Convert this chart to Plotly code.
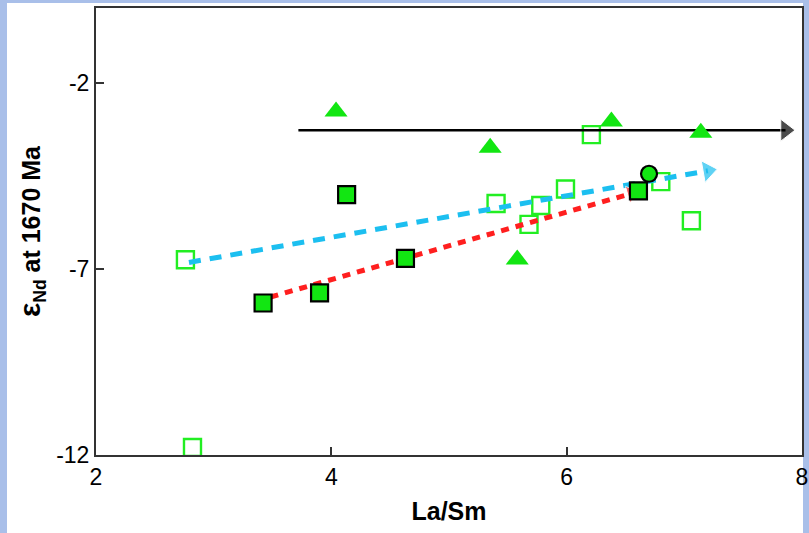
import plotly.graph_objects as go

# ---- data ----
filled_sq_x = [3.42, 3.90, 4.13, 4.63, 6.61]
filled_sq_y = [-7.92, -7.65, -5.01, -6.72, -4.91]

circle_x = [6.70]
circle_y = [-4.45]

open_sq_x = [2.76, 2.82, 5.40, 5.68, 5.78, 5.99, 6.21, 6.80, 7.06]
open_sq_y = [-6.76, -11.80, -5.25, -5.81, -5.30, -4.86, -3.40, -4.66, -5.71]

tri_x = [4.04, 5.35, 6.38, 7.14, 5.58]
tri_y = [-2.78, -3.75, -3.05, -3.35, -6.75]

black_arrow_x = [3.72, 7.86]
black_arrow_y = [-3.28, -3.28]
cyan_arrow_x = [2.79, 7.20]
cyan_arrow_y = [-6.83, -4.37]
red_arrow_x = [3.36, 6.55]
red_arrow_y = [-7.87, -4.98]

x_ticks = [2, 4, 6, 8]
y_ticks = [-2, -7, -12]

GREEN = "#12e612"
CYAN = "#1cbff0"
RED = "#ff1f1f"

fig = go.Figure()

fig.add_trace(go.Scatter(
    x=open_sq_x, y=open_sq_y, mode="markers",
    marker=dict(symbol="square-open", size=17, color="#22ee22", line=dict(width=2.4)),
    hoverinfo="skip"))

# trend lines
fig.add_trace(go.Scatter(x=cyan_arrow_x, y=cyan_arrow_y, mode="lines",
                         line=dict(color=CYAN, width=5, dash="12px,9px"), hoverinfo="skip"))
fig.add_trace(go.Scatter(x=cyan_arrow_x, y=cyan_arrow_y, mode="markers",
                         marker=dict(symbol="triangle-up", size=[0, 19], color=CYAN,
                                     angleref="previous"), hoverinfo="skip"))
fig.add_trace(go.Scatter(x=red_arrow_x, y=red_arrow_y, mode="lines",
                         line=dict(color=RED, width=5, dash="8px,7px"), hoverinfo="skip"))
fig.add_trace(go.Scatter(x=red_arrow_x, y=red_arrow_y, mode="markers",
                         marker=dict(symbol="triangle-up", size=[0, 15], color=RED,
                                     angleref="previous"), hoverinfo="skip"))
fig.add_trace(go.Scatter(x=black_arrow_x, y=black_arrow_y, mode="lines",
                         line=dict(color="black", width=2.5), hoverinfo="skip"))
fig.add_trace(go.Scatter(x=black_arrow_x, y=black_arrow_y, mode="markers",
                         marker=dict(symbol="triangle-up", size=[0, 19], color="black",
                                     angleref="previous"), hoverinfo="skip"))

fig.add_trace(go.Scatter(
    x=filled_sq_x, y=filled_sq_y, mode="markers",
    marker=dict(symbol="square", size=17, color=GREEN, line=dict(color="black", width=2.2)),
    hoverinfo="skip"))
fig.add_trace(go.Scatter(
    x=circle_x, y=circle_y, mode="markers",
    marker=dict(symbol="circle", size=16, color=GREEN, line=dict(color="black", width=2.2)),
    hoverinfo="skip"))
fig.add_trace(go.Scatter(
    x=tri_x, y=tri_y, mode="markers",
    marker=dict(symbol="triangle-up", size=20, color=GREEN, line=dict(width=0)),
    hoverinfo="skip"))

# white slide area on a light-blue page
fig.add_shape(type="rect", xref="paper", yref="paper", layer="below",
              x0=(7 - 96) / 706, x1=(803 - 96) / 706,
              y0=(455 - 540) / 447, y1=(455 - 3) / 447,
              fillcolor="white", line=dict(width=0))

axis_common = dict(showgrid=False, zeroline=False, showline=True, linecolor="#333333",
                   linewidth=2, mirror=True, ticks="inside", ticklen=8, tickwidth=1.5,
                   tickcolor="#333333", automargin=False,
                   tickfont=dict(family="Liberation Sans, Arial", size=23, color="black"))

fig.update_layout(
    width=809, height=533,
    margin=dict(l=96, r=7, t=8, b=78),
    paper_bgcolor="#a9bfe9",
    plot_bgcolor="white",
    showlegend=False,
    xaxis=dict(range=[2, 8], tickvals=x_ticks, ticktext=[str(v) for v in x_ticks],
               title=dict(text="<b>La/Sm</b>", standoff=14,
                          font=dict(family="Liberation Sans, Arial", size=25, color="black")),
               **axis_common),
    yaxis=dict(range=[-12, 0], tickvals=y_ticks, ticktext=[str(v) for v in y_ticks],
               title=dict(text="<b><span style='font-size:30px'>ε</span><sub>Nd</sub> at 1670 Ma</b>",
                          standoff=8,
                          font=dict(family="Liberation Sans, Arial", size=25, color="black")),
               **axis_common),
)

fig.write_html("out.html")
